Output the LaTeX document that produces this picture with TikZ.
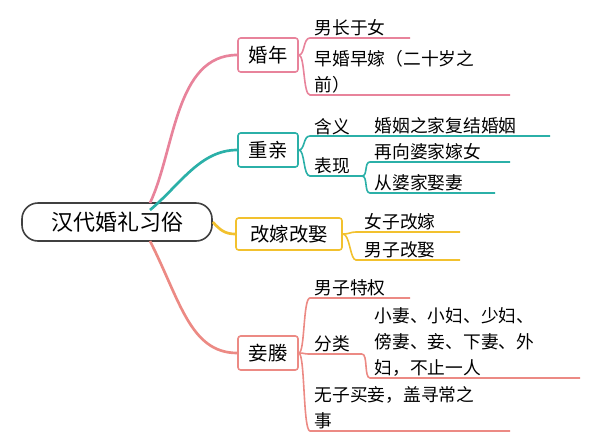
\documentclass[tikz,border=0pt]{standalone}
\usepackage{fontspec}
\newfontfamily\cjk{Noto Sans CJK SC}
\definecolor{cpink}{HTML}{E8839B}
\definecolor{cteal}{HTML}{2BB0A8}
\definecolor{cyel}{HTML}{F2C12E}
\definecolor{csal}{HTML}{EC8A84}
\begin{document}
\begin{tikzpicture}[x=0.75pt,y=-0.75pt,
  txt/.style={anchor=south west,inner sep=1pt,font=\cjk\fontsize{13.3}{19.5}\selectfont,align=left},
  box/.style={draw,line width=1.2pt,rounded corners=2pt,inner sep=4pt,font=\cjk\fontsize{14.5}{16}\selectfont},
  br/.style={line width=1.2pt}]
\useasboundingbox (0,0) rectangle (600,447);
\node[draw=black!75,line width=1.2pt,rounded corners=12pt,minimum width=190*0.75pt,minimum height=38*0.75pt,font=\cjk\fontsize{16.5}{18}\selectfont] (root) at (117,222) {汉代婚礼习俗};
% branch boxes
\node[box,draw=cpink,minimum width=60*0.75pt,minimum height=34*0.75pt] (b1) at (268,55) {婚年};
\node[box,draw=cteal,minimum width=60*0.75pt,minimum height=34*0.75pt] (b2) at (268,150) {重亲};
\node[box,draw=cyel,minimum width=106*0.75pt,minimum height=32*0.75pt] (b3) at (289,234) {改嫁改娶};
\node[box,draw=csal,minimum width=60*0.75pt,minimum height=34*0.75pt] (b4) at (268,353) {妾媵};
\coordinate (r) at (150,203);
\draw[cpink,line width=2pt] (r) .. controls (175,150) and (175,55) .. (b1.west);
\draw[cteal,line width=2pt] (150,210) .. controls (180,185) and (200,150) .. (b2.west);
\draw[cyel,line width=2pt] (root.east) .. controls (220,230) and (225,234) .. (b3.west);
\draw[csal,line width=2pt] (150,241) .. controls (180,300) and (190,353) .. (b4.west);
% 婚年
\node[txt] (t11) at (313,38) {男长于女};
\node[txt] (t12) at (313,95) {早婚早嫁（二十岁之\\前）};
\draw[cpink,br] (b1.east) .. controls (305,55) and (303,38) .. (310,38) -- (410,38);
\draw[cpink,br] (b1.east) .. controls (305,55) and (303,95) .. (310,95) -- (510,95);
% 重亲
\node[txt] (t21) at (313,136) {含义};
\node[txt] (t22) at (313,176) {表现};
\node[txt] (t211) at (373,136) {婚姻之家复结婚姻};
\node[txt] (t221) at (373,162) {再向婆家嫁女};
\node[txt] (t222) at (373,193) {从婆家娶妻};
\draw[cteal,br] (b2.east) .. controls (305,150) and (303,136) .. (310,136) -- (362,136) -- (550,136);
\draw[cteal,br] (b2.east) .. controls (305,150) and (303,176) .. (310,176) -- (362,176);
\draw[cteal,br] (362,176) .. controls (368,176) and (364,162) .. (370,162) -- (510,162);
\draw[cteal,br] (362,176) .. controls (368,176) and (364,193) .. (370,193) -- (495,193);
% 改嫁改娶
\node[txt] (t31) at (363,232) {女子改嫁};
\node[txt] (t32) at (363,260) {男子改娶};
\draw[cyel,br] (b3.east) .. controls (350,234) and (350,232) .. (356,232) -- (460,232);
\draw[cyel,br] (b3.east) .. controls (350,234) and (350,260) .. (356,260) -- (460,260);
% 妾媵
\node[txt] (t41) at (313,298) {男子特权};
\node[txt] (t42) at (313,354) {分类};
\node[txt] (t421) at (373,378) {小妻、小妇、少妇、\\傍妻、妾、下妻、外\\妇，不止一人};
\node[txt] (t43) at (313,431) {无子买妾，盖寻常之\\事};
\draw[csal,br] (b4.east) .. controls (305,353) and (303,298) .. (310,298) -- (410,298);
\draw[csal,br] (b4.east) .. controls (305,353) and (303,354) .. (310,354) -- (362,354);
\draw[csal,br] (362,354) .. controls (368,354) and (364,378) .. (370,378) -- (580,378);
\draw[csal,br] (b4.east) .. controls (305,353) and (303,431) .. (310,431) -- (510,431);
\end{tikzpicture}
\end{document}
